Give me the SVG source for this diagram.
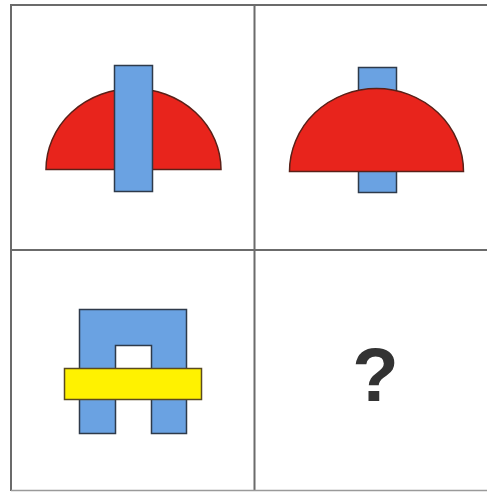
<svg xmlns="http://www.w3.org/2000/svg" width="487" height="492" viewBox="0 0 487 492">
<style>
.grid{stroke:#6b6b6b;stroke-width:2;fill:none}
.red{fill:#e8241c;stroke:#5a2018;stroke-width:1.5}
.blue{fill:#6aa2e2;stroke:#2e3a4a;stroke-width:1.5}
.yellow{fill:#fff200;stroke:#5a4a20;stroke-width:1.5}
.q{font-family:"Liberation Sans",Arial,sans-serif;font-weight:bold;font-size:76px;fill:#333333;text-anchor:middle}
</style>
<rect width="487" height="492" fill="#ffffff"/>
<g id="grid">
<line class="grid" x1="11" y1="5" x2="487" y2="5"/>
<line class="grid" x1="11" y1="4" x2="11" y2="491"/>
<line class="grid" x1="254.5" y1="5" x2="254.5" y2="491"/>
<line class="grid" x1="11" y1="250" x2="487" y2="250"/>
<line x1="11" y1="490.5" x2="487" y2="490.5" stroke="#9a9a9a" stroke-width="1.5"/>
</g>
<g id="cell1">
<path class="red" d="M46 169.5 A87.5 81 0 0 1 221 169.5 Z"/>
<rect class="blue" x="114.5" y="65.5" width="38" height="126"/>
</g>
<g id="cell2">
<rect class="blue" x="358.5" y="67.5" width="38" height="125"/>
<path class="red" d="M289.5 171.5 A87 83 0 0 1 463.5 171.5 Z"/>
</g>
<g id="cell3">
<path class="blue" d="M79.5 309.5 H186.5 V433.5 H151.5 V345.5 H115.5 V433.5 H79.5 Z"/>
<rect class="yellow" x="64.5" y="368.5" width="137" height="31"/>
</g>
<g id="cell4">
<text class="q" x="375.5" y="401">?</text>
</g>
</svg>
